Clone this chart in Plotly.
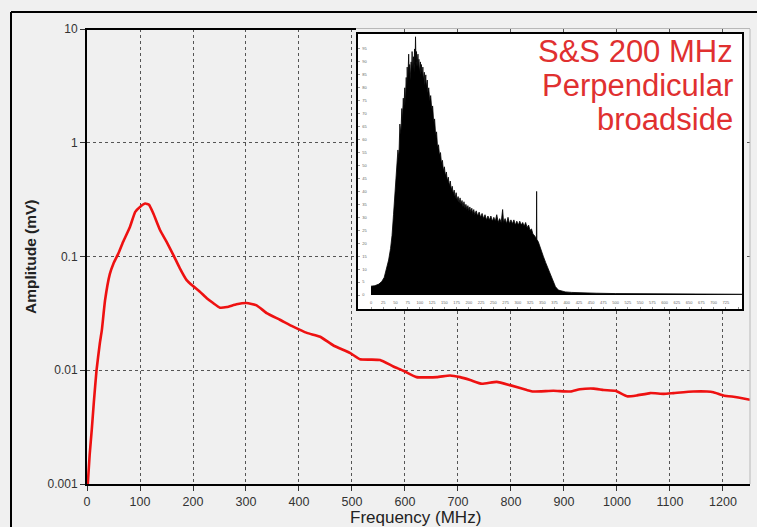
import plotly.graph_objects as go

# ---- main spectrum: amplitude versus frequency ----
freq_mhz = [1.5, 5, 9, 13, 18, 24, 28, 34, 43, 50, 59, 68, 81, 91, 100, 110, 117,
            125, 138, 150, 163, 175, 188, 200, 213, 226, 238, 251, 264, 282, 301,
            320, 339, 364, 389, 415, 440, 465, 496, 515, 534, 553, 578, 597, 622,
            660, 685, 704, 723, 745, 773, 798, 830, 842, 880, 912, 930, 956, 975,
            997, 1019, 1037, 1063, 1088, 1107, 1144, 1170, 1182, 1201, 1226, 1251]
amp_mv = [0.001, 0.0018, 0.003, 0.0053, 0.01, 0.017, 0.0225, 0.041, 0.07, 0.087,
          0.106, 0.134, 0.182, 0.247, 0.273, 0.292, 0.285, 0.24, 0.17, 0.135, 0.103,
          0.079, 0.062, 0.055, 0.049, 0.043, 0.039, 0.0355, 0.036, 0.038, 0.039,
          0.0372, 0.0318, 0.0278, 0.0242, 0.0213, 0.0197, 0.0165, 0.0142, 0.0125,
          0.0124, 0.0123, 0.0108, 0.0099, 0.0087, 0.0087, 0.0090, 0.0087, 0.0082,
          0.0076, 0.0079, 0.0074, 0.0067, 0.0065, 0.0066, 0.0065, 0.0068, 0.0069,
          0.0067, 0.0066, 0.0059, 0.0060, 0.0063, 0.0062, 0.0063, 0.0065, 0.0065,
          0.0064, 0.0060, 0.0058, 0.0055]

# ---- inset: raw spectrum histogram ----
inset_x = [0, 8, 16, 22, 27, 32, 36, 40, 43, 46, 49, 52, 55, 57, 59, 61, 63, 64, 66,
           67, 69, 70, 72, 73, 74, 75, 77, 78, 79, 80, 82, 83, 84, 85, 87, 88, 89, 90,
           91, 92, 93, 94, 96, 97, 98, 99, 101, 102, 103, 105, 106, 107, 109, 110,
           112, 113, 115, 116, 118, 120, 122, 124, 126, 128, 130, 132, 134, 136, 138,
           140, 142, 144, 146, 148, 150, 152, 154, 156, 158, 160, 162, 164, 166, 168,
           170, 172, 174, 176, 178, 180, 182, 184, 186, 188, 190, 192, 194, 196, 198,
           200, 202, 204, 206, 208, 210, 212, 215, 218, 221, 224, 227, 230, 233, 236,
           239, 242, 245, 248, 251, 254, 257, 260, 263, 266, 269, 271, 274, 277, 280,
           283, 286, 289, 292, 295, 298, 301, 304, 307, 310, 313, 316, 319, 322, 325,
           328, 331, 334, 337, 338, 338.5, 339, 342, 347, 352, 357, 362, 367, 372,
           377, 383, 390, 397, 410, 430, 460, 500, 550, 600, 650, 700, 758]
inset_y = [3.4, 3.6, 4.2, 5.2, 6.8, 10, 13.5, 18, 23, 31, 39, 49, 56, 53, 66, 62, 72,
           67, 76, 71, 80, 74, 84, 78, 88, 81, 93, 85, 89, 83, 90, 86, 94, 87, 92, 86,
           95, 89, 99.7, 90, 94, 88, 93, 87, 91, 86, 90, 85, 89, 84, 88, 83, 86, 81,
           85, 80, 83, 78, 80, 75, 77, 72, 73, 67, 68, 62, 63, 57, 58, 54, 55, 51, 52,
           48, 49.5, 46, 47.5, 44, 45.5, 42, 44, 40.5, 42, 39, 40.5, 37.5, 39.5, 36.5,
           38, 35.5, 37.5, 35, 36.5, 34, 36, 33.5, 35, 33, 34.5, 32.5, 34, 32, 33.5,
           31.5, 33, 31, 32.5, 30.5, 32, 30, 31.5, 29.5, 31, 29, 30.5, 29, 30.5, 28.5,
           30, 28.5, 31, 28, 29.5, 28, 33, 28, 29.5, 27.5, 30, 27.5, 29, 27.5, 29, 27,
           28.5, 27, 28.5, 27, 28, 26.5, 28, 26, 27, 25, 25.5, 23.5, 23, 22, 21.5, 40,
           21.5, 20.5, 17.5, 15, 12.5, 10, 7.5, 5, 3.2, 1.9, 1.5, 1.2, 1.0, 0.8, 0.7,
           0.55, 0.45, 0.4, 0.35, 0.3, 0.3]

x_ticks = [0, 100, 200, 300, 400, 500, 600, 700, 800, 900, 1000, 1100, 1200]
y_ticks = [0.001, 0.01, 0.1, 1, 10]
y_tick_text = ["0.001", "0.01", "0.1", "1", "10"]
inset_x_ticks = list(range(0, 751, 25))
inset_y_ticks = list(range(0, 96, 5))
label_lines = ["S&S 200 MHz", "Perpendicular", "broadside"]

# ---- canvas geometry (pixels) ----
W, H = 757, 527
ML, MR, MT, MB = 87, 7, 29, 43
PW, PH = W - ML - MR, H - MT - MB


def px(x):
    return (x - ML) / PW


def py(y):
    return (H - MB - y) / PH


BG = "#f0f0f0"
RED = "#ee1111"
FONT = "Liberation Sans, Arial, sans-serif"

fig = go.Figure()
fig.add_trace(go.Scatter(
    x=freq_mhz, y=amp_mv, mode="lines",
    line=dict(color=RED, width=2.6, shape="spline", smoothing=0.4),
    showlegend=False, hoverinfo="skip"))

fig.add_trace(go.Scatter(
    x=inset_x, y=inset_y, xaxis="x2", yaxis="y2", mode="lines",
    line=dict(color="black", width=0.8), fill="tozeroy", fillcolor="black",
    showlegend=False, hoverinfo="skip"))

# inset box geometry
ib_l, ib_r, ib_t, ib_b = 358, 742, 34, 309
x0_px, x750_px = 371, 738
sx = (x750_px - x0_px) / 750
y0_px, y100_px = 295, 36
sy = (y0_px - y100_px) / 100

grid = dict(showgrid=True, gridcolor="#555555", gridwidth=1, griddash="3px,3px")

fig.update_layout(
    width=W, height=H,
    margin=dict(l=ML, r=MR, t=MT, b=MB, pad=0),
    paper_bgcolor=BG, plot_bgcolor="white",
    font=dict(family=FONT, color="#333333", size=12),
    xaxis=dict(range=[0, 1251], tickvals=x_ticks, showline=True, linecolor="black",
               linewidth=2, ticks="outside", ticklen=5, tickcolor="#333333",
               zeroline=False, tickfont=dict(size=12.5, color="#333333"), **grid),
    yaxis=dict(type="log", range=[-3, 1], tickvals=y_ticks, ticktext=y_tick_text,
               showline=True, linecolor="black", linewidth=2, ticks="outside",
               ticklen=5, tickcolor="#333333", zeroline=False,
               tickfont=dict(size=12, color="#333333"), **grid),
    xaxis2=dict(domain=[px(ib_l), px(ib_r)], anchor="y2",
                range=[-(x0_px - ib_l) / sx, 750 + (ib_r - x750_px) / sx],
                showgrid=False, zeroline=False, showline=True, mirror=True,
                linecolor="black", linewidth=2, tickvals=inset_x_ticks,
                ticklabelposition="inside", ticks="inside", ticklen=2,
                tickcolor="#999999", tickfont=dict(size=4, color="#666666")),
    yaxis2=dict(domain=[py(ib_b), py(ib_t)], anchor="x2",
                range=[-(ib_b - y0_px) / sy, 100 + (y100_px - ib_t) / sy],
                showgrid=False, zeroline=False, showline=True, mirror=True,
                linecolor="black", linewidth=2, tickvals=inset_y_ticks,
                ticklabelposition="inside", ticks="inside", ticklen=2,
                tickcolor="#999999", tickfont=dict(size=4, color="#666666")),
)

shapes = [
    # grey backdrop of the main plotting area
    dict(type="rect", xref="paper", yref="paper", x0=0, x1=1, y0=0, y1=1,
         fillcolor=BG, line=dict(width=0), layer="below"),
    # top border of the plotting area
    dict(type="line", xref="paper", yref="paper", x0=px(85), x1=px(356), y0=1, y1=1,
         line=dict(color="black", width=2), layer="above"),
    dict(type="line", xref="paper", yref="paper", x0=px(356), x1=1, y0=py(28.5),
         y1=py(28.5), line=dict(color="#b8b8b8", width=1), layer="above"),
    # right border of the plotting area
    dict(type="line", xref="paper", yref="paper", x0=px(750), x1=px(750), y0=0,
         y1=1, line=dict(color="#b8b8b8", width=1), layer="above"),
    # outer frame
    dict(type="line", xref="paper", yref="paper", x0=px(11), x1=px(11), y0=py(12),
         y1=py(H + 5), line=dict(color="black", width=2), layer="above"),
    dict(type="line", xref="paper", yref="paper", x0=px(11), x1=px(W + 5),
         y0=py(12), y1=py(12), line=dict(color="black", width=2), layer="above"),
]
fig.update_layout(shapes=shapes)

annotations = [
    dict(text="Frequency (MHz)", xref="paper", yref="paper", x=px(415), y=py(517),
         xanchor="center", yanchor="middle", showarrow=False,
         font=dict(size=17, color="#222222", family=FONT)),
    dict(text="<b>Amplitude (mV)</b>", xref="paper", yref="paper", x=px(30),
         y=py(257), xanchor="center", yanchor="middle", textangle=-90,
         showarrow=False, font=dict(size=15.5, color="#222222", family=FONT)),
]
for i, line in enumerate(label_lines):
    annotations.append(dict(
        text=line, xref="paper", yref="paper", x=px(735), y=py(51 + 34.5 * i),
        xanchor="right", yanchor="middle", showarrow=False,
        font=dict(size=31, color="#e03030", family=FONT)))
fig.update_layout(annotations=annotations)

fig.write_html("out.html")
